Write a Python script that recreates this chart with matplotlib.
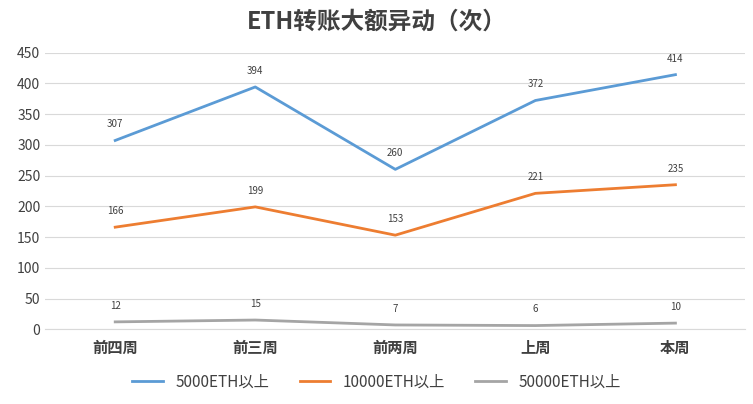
import matplotlib
matplotlib.use("Agg")
import matplotlib.pyplot as plt
from matplotlib import font_manager as fm
import glob

fam = None
for f in fm.findSystemFonts():
    if "CJK" in f and ("SC" in f or "Regular" in f or "ttc" in f):
        try:
            fm.fontManager.addfont(f)
            fam = fm.FontProperties(fname=f).get_name()
            break
        except Exception:
            pass
plt.rcParams['font.family'] = [fam or 'Noto Sans CJK SC', 'DejaVu Sans']

categories = ["前四周", "前三周", "前两周", "上周", "本周"]
s1 = [307, 394, 260, 372, 414]
s2 = [166, 199, 153, 221, 235]
s3 = [12, 15, 7, 6, 10]
names = ["5000ETH以上", "10000ETH以上", "50000ETH以上"]
colors = ["#5b9bd5", "#ed7d31", "#a5a5a5"]
yticks = [0, 50, 100, 150, 200, 250, 300, 350, 400, 450]

fig = plt.figure(figsize=(7.53, 4.04), dpi=100)
ax = fig.add_axes([0.06, 0.185, 0.93, 0.685])
x = range(len(categories))
for s, n, c in zip([s1, s2, s3], names, colors):
    ax.plot(x, s, color=c, lw=2, label=n)
    for xi, v in zip(x, s):
        ax.annotate(str(v), (xi, v), xytext=(0, 8), textcoords="offset points",
                    ha="center", va="bottom", fontsize=7, color="#404040")
ax.set_xlim(-0.5, 4.5)
ax.set_ylim(0, 450)
ax.set_yticks(yticks)
ax.set_xticks(list(x))
ax.set_xticklabels(categories, fontsize=11, fontweight="bold", color="#404040")
ax.tick_params(axis='y', labelsize=10, colors="#404040", length=0)
ax.tick_params(axis='x', length=0, pad=8)
ax.grid(axis='y', color="#d9d9d9", lw=0.8)
for sp in ["top", "right", "left"]:
    ax.spines[sp].set_visible(False)
ax.spines["bottom"].set_color("#d9d9d9")
ax.set_axisbelow(True)
fig.suptitle("ETH转账大额异动（次）", fontsize=17, fontweight="bold", color="#404040", y=0.975)
fig.legend(loc="lower center", ncol=3, frameon=False, fontsize=11,
           bbox_to_anchor=(0.5, 0.0), handlelength=2)
for t in fig.legends[0].get_texts():
    t.set_color("#404040")
fig.savefig("out.png")
